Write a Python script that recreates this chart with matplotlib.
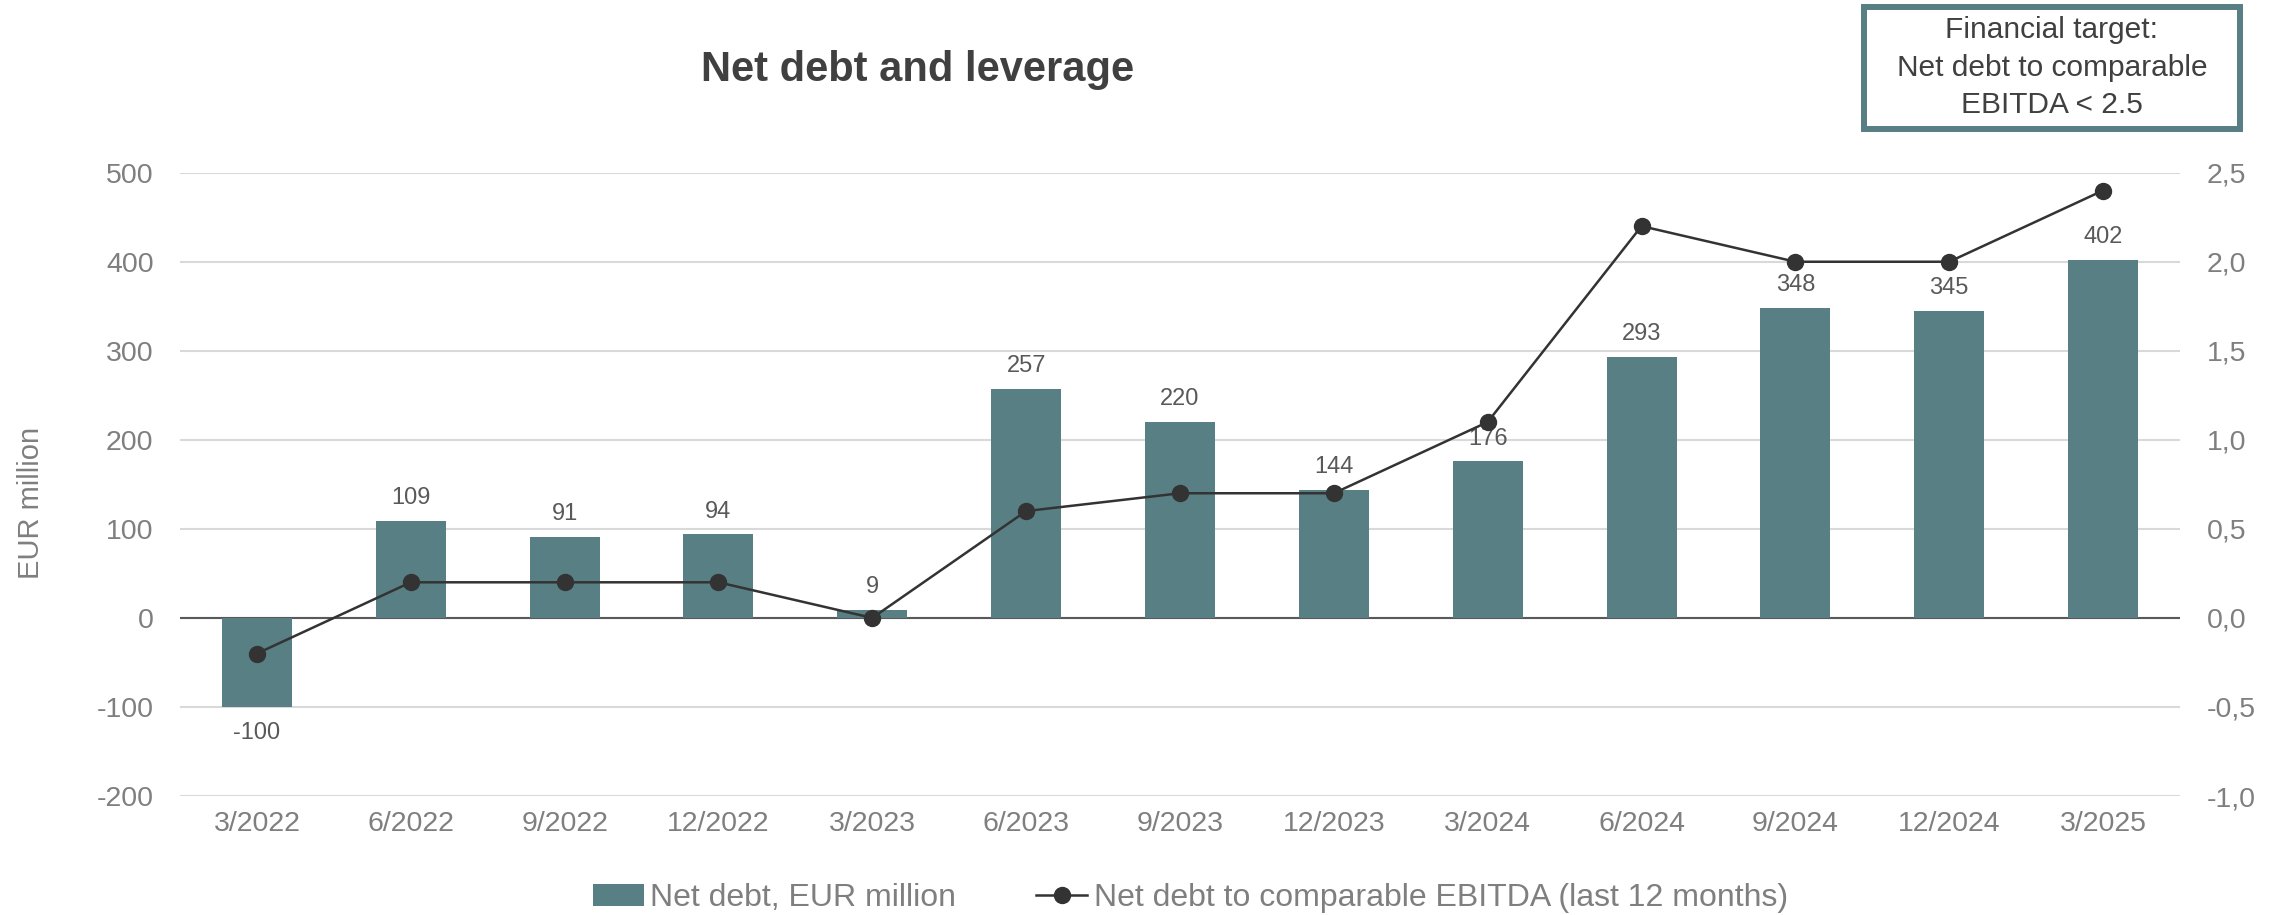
import matplotlib.pyplot as plt
import numpy as np
from matplotlib.lines import Line2D
from matplotlib.patches import Patch, Rectangle

plt.rcParams['font.family'] = ['Liberation Sans', 'DejaVu Sans']
plt.rcParams['axes.unicode_minus'] = False

quarters = ['3/2022', '6/2022', '9/2022', '12/2022', '3/2023', '6/2023', '9/2023',
            '12/2023', '3/2024', '6/2024', '9/2024', '12/2024', '3/2025']
net_debt = [-100, 109, 91, 94, 9, 257, 220, 144, 176, 293, 348, 345, 402]
leverage = [-0.2, 0.2, 0.2, 0.2, 0.0, 0.6, 0.7, 0.7, 1.1, 2.2, 2.0, 2.0, 2.4]

BAR_COLOR = '#587f84'
LINE_COLOR = '#333333'
TICK_COLOR = '#7f7f7f'
LABEL_COLOR = '#595959'
GRID_COLOR = '#d9d9d9'

fig = plt.figure(figsize=(22.82, 9.15), dpi=100, facecolor='white')
ax = fig.add_axes([0.07888, 0.13005, 0.87642, 0.68121])
ax2 = ax.twinx()

x = np.arange(len(quarters))
ax.bar(x, net_debt, width=0.455, color=BAR_COLOR, zorder=2)
for xi, v in zip(x, net_debt):
  if v >= 0:
    ax.annotate(f'{v}', (xi, v), xytext=(0, 12), textcoords='offset points',
                ha='center', va='baseline', fontsize=17, color=LABEL_COLOR)
  else:
    ax.annotate(f'{v}', (xi, v), xytext=(0, -11), textcoords='offset points',
                ha='center', va='top', fontsize=17, color=LABEL_COLOR)

ax.set_xlim(-0.5, len(quarters) - 0.5)
ax.set_ylim(-200, 500)
ax.set_yticks(np.arange(-200, 501, 100))
ax.set_xticks(x)
ax.set_xticklabels(quarters)
ax.grid(axis='y', color=GRID_COLOR, linewidth=1.5, zorder=0)
ax.set_axisbelow(True)
ax.axhline(0, color='#595959', linewidth=1.5, zorder=1)
ax.tick_params(axis='both', length=0, labelsize=20.5, labelcolor=TICK_COLOR)
ax.tick_params(axis='x', pad=11)
ax.tick_params(axis='y', pad=19)
for s in ax.spines.values():
  s.set_visible(False)

fig.text(0.0135, 0.450, 'EUR million', fontsize=21, color=TICK_COLOR, rotation=90,
         ha='center', va='center')

ax2.plot(x, leverage, color=LINE_COLOR, linewidth=1.8, marker='o', markersize=11.5, zorder=3)
ax2.set_ylim(-1.0, 2.5)
ax2.set_yticks(np.arange(-1.0, 2.51, 0.5))
ax2.set_yticklabels([f'{t:.1f}'.replace('.', ',') for t in np.arange(-1.0, 2.51, 0.5)])
ax2.tick_params(axis='y', length=0, labelsize=20.5, labelcolor=TICK_COLOR, pad=19)
for s in ax2.spines.values():
  s.set_visible(False)

fig.text(0.402, 0.923, 'Net debt and leverage', fontsize=30, fontweight='bold',
         color='#404040', ha='center', va='center')

# target box
fig.patches.append(Rectangle((0.8170, 0.8590), 0.1645, 0.1330, transform=fig.transFigure,
                             facecolor='white', edgecolor=BAR_COLOR, linewidth=4.3))
fig.text(0.8992, 0.926, 'Financial target:\nNet debt to comparable\nEBITDA < 2.5',
         fontsize=21.5, color='#404040', ha='center', va='center', linespacing=1.42)

handles = [Patch(facecolor=BAR_COLOR, edgecolor='none'),
           Line2D([], [], color=LINE_COLOR, linewidth=1.8, marker='o', markersize=11.5)]
fig.legend(handles, ['Net debt, EUR million', 'Net debt to comparable EBITDA (last 12 months)'],
           loc='center', bbox_to_anchor=(0.5216, 0.0186), ncol=2, frameon=False,
           fontsize=23, labelcolor=TICK_COLOR, handlelength=1.6, handletextpad=0.2,
           columnspacing=2.5, borderpad=0, borderaxespad=0)

fig.savefig('out.png', dpi=100, facecolor='white')
